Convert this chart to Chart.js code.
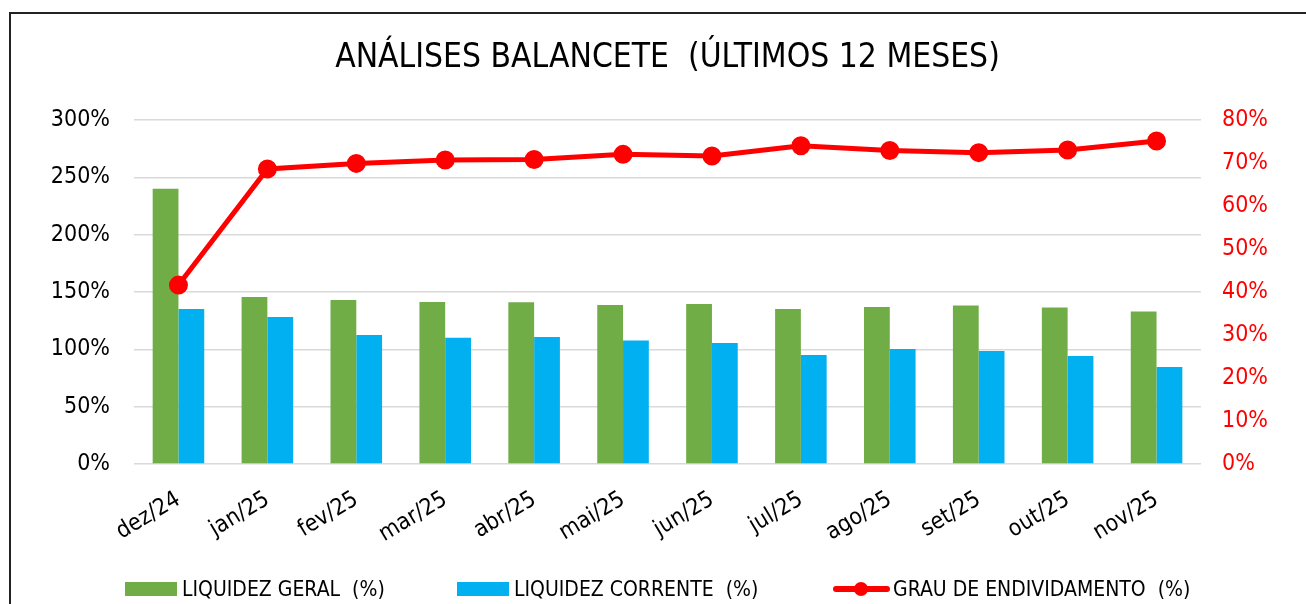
<!DOCTYPE html>
<html><head><meta charset="utf-8">
<script src="https://cdn.jsdelivr.net/npm/chart.js@4"></script>
<style>
html,body{margin:0;padding:0;background:#fff;overflow:hidden}
#wrap{position:relative;width:1306px;height:604px;overflow:hidden}
#frame{position:absolute;left:9px;top:12px;width:1330px;height:640px;border:2px solid #222;box-sizing:border-box}
canvas{position:absolute;left:0;top:0}
.lg{position:absolute;top:577px;height:24px;display:flex;align-items:center;font-family:'DejaVu Sans Condensed',sans-serif;font-size:21px;color:#000;white-space:pre}
.sw{width:52px;height:14px;margin-right:5px}
.ln{position:relative;width:57px;height:14px;margin-right:3px}
.ln:before{content:'';position:absolute;left:0;right:0;top:4px;height:6px;background:#FF0000;border-radius:3px}
.ln:after{content:'';position:absolute;left:21px;top:0;width:14px;height:14px;border-radius:50%;background:#FF0000}
</style></head><body>
<div id="wrap">
<div id="frame"></div>
<canvas id="c" width="1306" height="604"></canvas>
<div class="lg" style="left:125px"><div class="sw" style="background:#70AD47"></div><span>LIQUIDEZ GERAL  (%)</span></div>
<div class="lg" style="left:457px"><div class="sw" style="background:#00B0F0"></div><span>LIQUIDEZ CORRENTE  (%)</span></div>
<div class="lg" style="left:833px"><div class="ln"></div><span>GRAU DE ENDIVIDAMENTO  (%)</span></div>
</div>
<script>
const categories = ['dez/24','jan/25','fev/25','mar/25','abr/25','mai/25','jun/25','jul/25','ago/25','set/25','out/25','nov/25'];
const liquidezGeral = [240, 145.6, 143, 141.3, 141, 138.7, 139.5, 135.2, 137, 138.2, 136.5, 133];
const liquidezCorrente = [135.2, 128.2, 112.5, 110, 110.8, 107.7, 105.5, 95, 100.3, 98.5, 94.2, 84.6];
const grauEndividamento = [41.6, 68.6, 69.9, 70.7, 70.8, 72, 71.6, 74, 72.9, 72.4, 73, 75.1];
const leftTicks = [0, 50, 100, 150, 200, 250, 300];
const rightTicks = [0, 10, 20, 30, 40, 50, 60, 70, 80];
const titleText = 'ANÁLISES BALANCETE  (ÚLTIMOS 12 MESES)';

const FONT = "'DejaVu Sans Condensed',sans-serif";
Chart.defaults.font.family = FONT;
Chart.defaults.color = '#000';

new Chart(document.getElementById('c'), {
  data: {
    labels: categories,
    datasets: [
      {type:'line', label:'GRAU DE ENDIVIDAMENTO  (%)', data:grauEndividamento, yAxisID:'y1',
       borderColor:'#FF0000', backgroundColor:'#FF0000', borderWidth:5, pointRadius:7, pointHoverRadius:7,
       pointBackgroundColor:'#FF0000', pointBorderColor:'#FF0000', tension:0, order:0},
      {type:'bar', label:'LIQUIDEZ GERAL  (%)', data:liquidezGeral, yAxisID:'y',
       backgroundColor:'#70AD47', categoryPercentage:0.58, barPercentage:1.0, order:1},
      {type:'bar', label:'LIQUIDEZ CORRENTE  (%)', data:liquidezCorrente, yAxisID:'y',
       backgroundColor:'#00B0F0', categoryPercentage:0.58, barPercentage:1.0, order:1}
    ]
  },
  options: {
    responsive:false, animation:false, devicePixelRatio:1,
    layout:{padding:0},
    plugins:{
      legend:{display:false},
      tooltip:{enabled:false},
      title:{display:true, fullSize:false, text:titleText, color:'#000', font:{size:33.3, weight:'normal', family:FONT, lineHeight:1.2},
             padding:{top:38, bottom:42}}
    },
    scales:{
      x:{
        grid:{display:false}, border:{display:false},
        ticks:{font:{size:23}, color:'#000', maxRotation:31, minRotation:31, padding:14, autoSkip:false},
        afterFit:s=>{s.height = 140;}
      },
      y:{
        position:'left', min:0, max:300,
        afterBuildTicks:s=>{s.ticks = leftTicks.map(v=>({value:v}));},
        ticks:{font:{size:23}, color:'#000', padding:24, callback:v=>v+'%'},
        grid:{color:'#D9D9D9', lineWidth:1.5, drawTicks:false},
        border:{display:false},
        afterFit:s=>{s.width = 134;}
      },
      y1:{
        position:'right', min:0, max:80,
        afterBuildTicks:s=>{s.ticks = rightTicks.map(v=>({value:v}));},
        ticks:{font:{size:23}, color:'#FF0000', padding:21, callback:v=>v+'%'},
        grid:{display:false, drawTicks:false},
        border:{display:false},
        afterFit:s=>{s.width = 105;}
      }
    }
  }
});
</script>
</body></html>
